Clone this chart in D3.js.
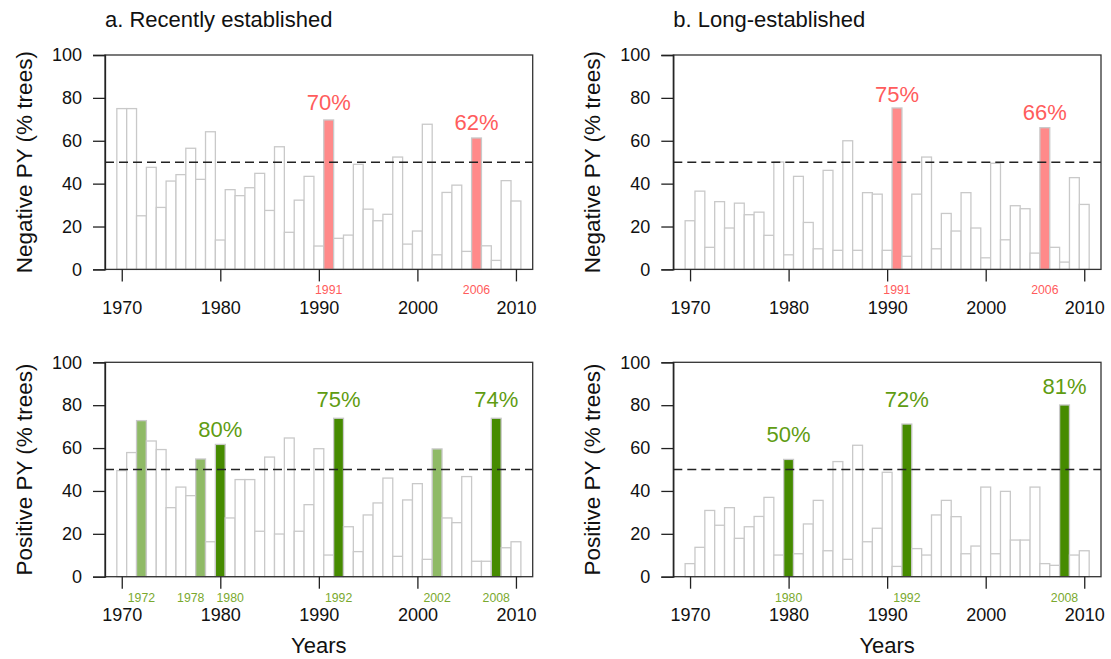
<!DOCTYPE html>
<html>
<head>
<meta charset="utf-8">
<script src="https://cdn.jsdelivr.net/npm/d3@7"></script>
<style>
  html, body { margin: 0; padding: 0; background: #fff; }
  svg { display: block; font-family: "Liberation Sans", Arial, sans-serif; }
</style>
</head>
<body>
<svg id="chart" width="1111" height="659"></svg>
<script>
// ---------------- DATA ----------------
const years = d3.range(1970, 2011);           // 1970 .. 2010
const yTicks = [0, 20, 40, 60, 80, 100];
const xTicks = [1970, 1980, 1990, 2000, 2010];

const negRecent = [75, 75, 25, 47.6, 28.9, 41.2, 44.2, 56.5, 42, 64.2,
  13.7, 37.2, 34.4, 38.1, 44.8, 27.5, 57.2, 17.3, 32.3, 43.4,
  10.9, 69.7, 14.5, 16, 49, 28.1, 22.7, 25.7, 52.4, 11.8,
  17.9, 67.7, 6.8, 35.9, 39.3, 8.4, 61.3, 11, 4.2, 41.4, 31.9];
const negLong = [22.7, 36.5, 10.3, 31.6, 19.3, 30.9, 25.5, 26.7, 15.9, 50.1,
  6.8, 43.4, 21.9, 9.6, 46.2, 8.9, 60, 8.9, 35.8, 35.1,
  8.9, 75.3, 6.1, 35.1, 52.4, 9.6, 26.1, 17.9, 35.8, 19.3,
  5.4, 49.5, 13.8, 29.7, 28.3, 7.6, 66.1, 10.3, 3.4, 42.8, 30.3];
const posRecent = [49.5, 57.9, 72.8, 63.3, 59.3, 32.2, 41.8, 37.8, 54.9, 16.3,
  61.7, 27.4, 45.3, 45.3, 21.2, 55.8, 19.9, 64.7, 21.2, 33.6,
  59.7, 10.1, 73.9, 23.3, 11.7, 28.8, 34.4, 46, 9.5, 35.8,
  43.4, 8.1, 59.6, 27.4, 25.2, 46.7, 7.2, 7.2, 73.9, 13.5, 16.3];
const posLong = [6.1, 13.7, 30.9, 24, 32.2, 17.9, 23.3, 28.1, 37, 10.1,
  54.7, 10.7, 24.6, 35.6, 12.1, 53.7, 8.1, 61.3, 16.3, 22.6,
  48.7, 4.8, 71.2, 13.1, 10.1, 28.8, 35.6, 28, 10.7, 14.3,
  41.8, 10.7, 39.8, 17.1, 17.1, 41.8, 6.1, 5.3, 80.1, 10.1, 12.1];

const threshold = 50;

// highlighted years, percentage labels (label height in data units)
const negRecentStrong = [1991, 2006];
const negRecentPct = ["70%", "62%"];
const negRecentPctY = [74.3, 65];
const negRecentYearLab = ["1991", "2006"];
const negRecentYearAt = [1991, 2006];

const negLongStrong = [1991, 2006];
const negLongPct = ["75%", "66%"];
const negLongPctY = [78, 69.7];
const negLongYearLab = ["1991", "2006"];
const negLongYearAt = [1991, 2006];

const posRecentStrong = [1980, 1992, 2008];
const posRecentLight = [1972, 1978, 2002];
const posRecentPct = ["80%", "75%", "74%"];
const posRecentPctY = [65.2, 79.2, 79.2];
const posRecentYearLab = ["1972", "1978", "1980", "1992", "2002", "2008"];
const posRecentYearAt = [1972, 1977, 1981, 1992, 2002, 2008];

const posLongStrong = [1980, 1992, 2008];
const posLongPct = ["50%", "72%", "81%"];
const posLongPctY = [62.8, 79.2, 85.2];
const posLongYearLab = ["1980", "1992", "2008"];
const posLongYearAt = [1980, 1992, 2008];

const titles = ["a. Recently established", "b. Long-established"];
const yLabels = ["Negative PY (% trees)", "Positive PY (% trees)"];
const xLabel = "Years";

// ---------------- STYLE ----------------
const RED_BAR = "#ff8a8a", RED_TXT = "#ff5c5c";
const GREEN_DARK = "#468b00", GREEN_LIGHT = "#8fba66";
const GREEN_TXT = "#5f9c12", GREEN_SMALL = "#7aa92e";
const BAR_STROKE = "#c9c9c9", AXIS = "#222";

const svg = d3.select("#chart");

const panels = [
  { left: 105, top: 55, vals: negRecent, strong: negRecentStrong, light: [], strongFill: RED_BAR, lightFill: null,
    pct: negRecentPct, pctY: negRecentPctY, pctColor: RED_TXT, ylab: negRecentYearLab, yat: negRecentYearAt, ylabColor: RED_TXT,
    title: titles[0], yTitle: yLabels[0], xTitle: false },
  { left: 673.3, top: 55, vals: negLong, strong: negLongStrong, light: [], strongFill: RED_BAR, lightFill: null,
    pct: negLongPct, pctY: negLongPctY, pctColor: RED_TXT, ylab: negLongYearLab, yat: negLongYearAt, ylabColor: RED_TXT,
    title: titles[1], yTitle: yLabels[0], xTitle: false },
  { left: 105, top: 362.3, vals: posRecent, strong: posRecentStrong, light: posRecentLight, strongFill: GREEN_DARK, lightFill: GREEN_LIGHT,
    pct: posRecentPct, pctY: posRecentPctY, pctColor: GREEN_TXT, ylab: posRecentYearLab, yat: posRecentYearAt, ylabColor: GREEN_SMALL,
    title: null, yTitle: yLabels[1], xTitle: true },
  { left: 673.3, top: 362.3, vals: posLong, strong: posLongStrong, light: [], strongFill: GREEN_DARK, lightFill: null,
    pct: posLongPct, pctY: posLongPctY, pctColor: GREEN_TXT, ylab: posLongYearLab, yat: posLongYearAt, ylabColor: GREEN_SMALL,
    title: null, yTitle: yLabels[1], xTitle: true }
];

const W = 427.7, H = 214.4;

panels.forEach(p => {
  const g = svg.append("g").attr("transform", `translate(${p.left},${p.top})`);
  const x = d3.scaleLinear().domain([1968.3, 2011.7]).range([0, W]);
  const y = d3.scaleLinear().domain([0, 100]).range([H, 0]);
  const bw = x(1971) - x(1970);

  const rows = years.map((yr, i) => ({ yr, v: p.vals[i] }));
  g.selectAll("rect.bar").data(rows).enter().append("rect")
    .attr("class", "bar")
    .attr("x", d => x(d.yr - 0.5))
    .attr("width", bw)
    .attr("y", d => y(d.v))
    .attr("height", d => y(0) - y(d.v))
    .attr("fill", d => p.strong.includes(d.yr) ? p.strongFill : (p.light.includes(d.yr) ? p.lightFill : "#fff"))
    .attr("stroke", BAR_STROKE)
    .attr("stroke-width", 1.3);

  // threshold dashed line
  g.append("line")
    .attr("x1", 0).attr("x2", W)
    .attr("y1", y(threshold)).attr("y2", y(threshold))
    .attr("stroke", "#222").attr("stroke-width", 1.4)
    .attr("stroke-dasharray", "9,5");

  // box
  g.append("rect").attr("x", 0).attr("y", 0).attr("width", W).attr("height", H)
    .attr("fill", "none").attr("stroke", "#333").attr("stroke-width", 1.3);

  // y axis
  const yAx = g.append("g").call(d3.axisLeft(y).tickValues(yTicks).tickSize(12).tickPadding(11));
  yAx.select(".domain").attr("stroke", AXIS).attr("stroke-width", 1.3);
  yAx.selectAll(".tick line").attr("stroke", AXIS).attr("stroke-width", 1.3);
  yAx.selectAll("text").attr("font-size", 18).attr("fill", "#111").attr("font-family", "Liberation Sans, Arial, sans-serif");

  // x axis
  const xAx = g.append("g").attr("transform", `translate(0,${H})`)
    .call(d3.axisBottom(x).tickValues(xTicks).tickFormat(d3.format("d")).tickSize(12).tickPadding(0));
  xAx.select(".domain").remove();
  xAx.selectAll(".tick line").attr("stroke", AXIS).attr("stroke-width", 1.3);
  xAx.selectAll("text").attr("font-size", 18).attr("fill", "#111")
    .attr("font-family", "Liberation Sans, Arial, sans-serif")
    .attr("dy", null).attr("y", 44.5);

  // small highlighted year labels
  g.selectAll("text.ylab").data(p.ylab).enter().append("text")
    .attr("x", (d, i) => x(p.yat[i]))
    .attr("y", H + 25)
    .attr("text-anchor", "middle")
    .attr("font-size", 12.3)
    .attr("fill", p.ylabColor)
    .text(d => d);

  // percentage labels
  g.selectAll("text.pct").data(p.pct).enter().append("text")
    .attr("x", (d, i) => x(p.strong[i]))
    .attr("y", (d, i) => y(p.pctY[i]))
    .attr("text-anchor", "middle")
    .attr("font-size", 22)
    .attr("fill", p.pctColor)
    .text(d => d);

  // y title
  g.append("text")
    .attr("transform", `translate(${-73},${H / 2}) rotate(-90)`)
    .attr("text-anchor", "middle")
    .attr("font-size", 22.5)
    .attr("fill", "#111")
    .text(p.yTitle);

  if (p.title) {
    g.append("text").attr("x", 0).attr("y", 26.7 - p.top)
      .attr("font-size", 22).attr("fill", "#111").text(p.title);
  }
  if (p.xTitle) {
    g.append("text").attr("x", W / 2).attr("y", H + 76)
      .attr("text-anchor", "middle").attr("font-size", 22).attr("fill", "#111").text(xLabel);
  }
});
</script>
</body>
</html>
